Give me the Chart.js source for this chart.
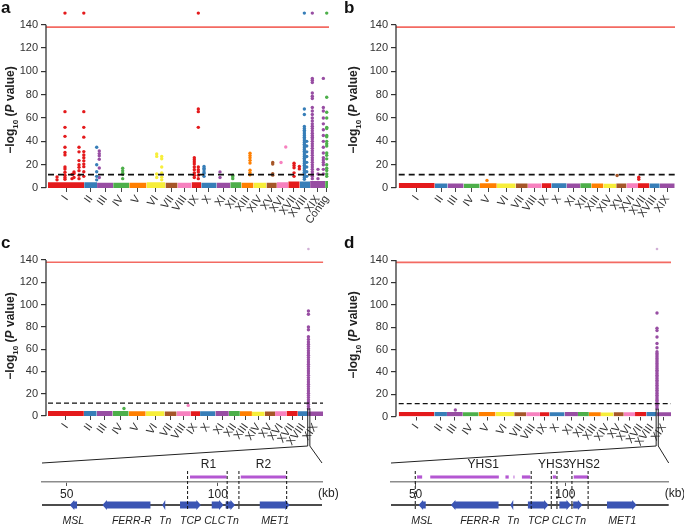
<!DOCTYPE html>
<html><head><meta charset="utf-8">
<script src="https://cdn.jsdelivr.net/npm/chart.js@4/dist/chart.umd.min.js"></script>
<style>
body{margin:0;width:684px;height:527px;position:relative;background:#fff;font-family:"Liberation Sans",Arial,sans-serif;overflow:hidden}
canvas{position:absolute}
.lt{position:absolute;font-weight:bold;font-size:17px;line-height:17px;color:#111}
.yt{position:absolute;font-weight:bold;font-size:12px;line-height:12px;white-space:nowrap;transform:translate(-50%,-50%) rotate(-90deg);color:#222}
.yt sub{font-size:8px;line-height:8px}
</style></head><body>
<canvas id="ca" width="342" height="245" style="left:0;top:0"></canvas>
<canvas id="cb" width="342" height="245" style="left:342px;top:0"></canvas>
<canvas id="cc" width="342" height="230" style="left:0;top:236px"></canvas>
<canvas id="cd" width="342" height="230" style="left:342px;top:236px"></canvas>
<canvas id="gc" width="342" height="127" style="left:0;top:400px"></canvas>
<canvas id="gd" width="342" height="127" style="left:342px;top:400px"></canvas>
<div class="lt" style="left:1px;top:-1px">a</div>
<div class="lt" style="left:344px;top:-1px">b</div>
<div class="lt" style="left:1px;top:234px">c</div>
<div class="lt" style="left:344px;top:234px">d</div>
<div class="yt" style="left:12px;top:110px">−log<sub>10</sub> (<i>P</i> value)</div>
<div class="yt" style="left:355px;top:110px">−log<sub>10</sub> (<i>P</i> value)</div>
<div class="yt" style="left:12px;top:336px">−log<sub>10</sub> (<i>P</i> value)</div>
<div class="yt" style="left:355px;top:335px">−log<sub>10</sub> (<i>P</i> value)</div>
<script>
// ---------------- data ----------------
const chromNames = ['I','II','III','IV','V','VI','VII','VIII','IX','X','XI','XII','XIII','XIV','XV','XVI','XVII','XVIII','XIX','Contig'];
const chromLenMb = [50.5,18,22.5,22.5,24,26.5,17,19.5,13.5,21.5,19,15.5,17,18,14.5,16,16,14.5,21,4];
const chromColors = ['#e41a1c','#377eb8','#984ea3','#4daf4a','#ff7f00','#f7ee3a','#a65628','#f781bf'];
const yTicks = [0,20,40,60,80,100,120,140];
const genomeWideLine = 138;
const suggestiveLine = 11.5;

// top of the dense background cloud per chromosome (-log10 P)
const bandA = [5,5,4.5,4.5,4.5,5,4.5,4.5,5,4.5,4.5,5,4.5,4.5,4.5,5,5.5,5.5,6,6];
const bandB = [4.2,3.8,3.8,3.6,4,3.8,3.8,3.8,4,4,3.8,4,3.8,3.6,3.8,4,4,3.8,3.8];
const bandC = [4.6,4.4,4.4,4.4,4.2,4.2,4,4.2,4.2,4.2,4.5,4.4,4.2,3.8,4,4.2,4.4,4.3,4];
const bandD = [4,4,4,3.8,4,4,3.8,3.8,3.8,3.8,4,4,3.8,3.6,3.8,3.8,4,4,3.8];

// [chromosome, position within chromosome (Mb), -log10 P values]
const hitsA = [
 ['I',12.6,[9.4,7]],
 ['I',23.7,[150,65.5,52,44.3,35,30.4,28.4,18,16.3,13.5,11,9,7.5]],
 ['I',33.5,[11.7,8]],
 ['I',36.3,[13.8,12.4,9]],
 ['I',43.3,[35,31,23.5,20,17.7,14.9,11,8]],
 ['I',50.0,[150,65.5,52,43.6,31.2,28.4,26,23.3,20.5,18.3,14,10]],
 ['II',17.5,[35,20,14,10,7]],
 ['III',3.1,[31.8,29.5,27.6,24.7,17.1,9]],
 ['IV',13.3,[16.9,14.9,12.6,11.5,8]],
 ['VI',14.3,[29.2,27.1,12,9]],
 ['VI',21.3,[27,25,18,12.9,9.3,7]],
 ['IX',3.8,[25.9,24.2,22.3,20.5,18,15.7,13,11,9]],
 ['IX',9.4,[150,67.8,65.5,52,18,15.7,13.8,11,8]],
 ['X',3.9,[18.5,17,15.7,13.8,12.4,10]],
 ['XI',4.7,[13.8,9]],
 ['XII',3.5,[11,9.7,8]],
 ['XIII',12.1,[29.8,27.8,25.9,23.7,21.5,15.2,13.1,11.3]],
 ['XV',8.8,[21.9,20.5,12.3,11]],
 ['XVI',5.9,[21.9]],
 ['XVI',12.5,[35.2]],
 ['XVII',8.1,[21.3,19.3,17.4,13,10]],
 ['XVII',15.5,[18.5,16.4]],
 ['XVIII',6.5,[150,67.7,63,52.8,51,49.5,48,46.5,45,43.5,42,40.5,39,37.5,36,34.5,33,31.5,30,28.5,27,25.5,24,22.5,21,19.5,18,16.5,15,13.5,12,10.5,9,7.5]],
 ['XVIII',9.8,[40,36,31,27,22,18,14,10]],
 ['XIX',3.1,[150,94,92.5,90.5,81.5,78.7,76.8,69,66,63,60,57.5,55,53,51,49,47,45,43.5,42,40,38,36,34,32,30,28,26,24,22,20,18,16,14,12,10,8]],
 ['XIX',11,[16,12,8]],
 ['XIX',18.5,[94,69,66,60,55,50,45,40,35,30,26,24,22,20,16,12]],
 ['Contig',2.2,[150,77.8,65,60,52,51,45,44,40,38,36,30,28,25,20,17,15,12,10]]
];
const hitsB = [['V',10.3,[6.5]],['XV',1.2,[10.7]],['XVII',1.1,[9.3,7.5]]];
const hitsC = [
 ['IV',15.9,[6.7]],['VIII',16.3,[9.5]],
 ['XIX',0.5,[150,94.3,91.4,79.9,77.5,71.2,68.8,66.5,64.5,62.5,60.5,58.5,56.5,54.5,52.5,50.5,48.5,46.5,44.5,42.5,40.5,38.5,36.5,34.5,32.5,30.5,28.5,26.5,24.5,22.5,20.5,18.5,16.5,14.5,12.5,10.5,8.5,6.5]]
];
const hitsD = [
 ['III',11.9,[5.8]],
 ['XIX',0.7,[150,92.6,79,76.9,71.2,65.4,61.6,58,56.5,55,53.5,52,50.5,49,47.5,46,44.5,43,41.5,40,38.5,37,35.5,34,32.5,31,29.5,28,26.5,25,23.5,22,20.5,19,17.5,16,14.5,13,11.5,10,8.5,7]]
];

// zoomed region of chromosome XIX (Mb from start) and gene models (kb)
const zoomWindowMb = [-0.5, 2.5];
const kbRange = [41.8, 134.5];
const kbTicks = [50, 100];
// [name, start kb, end kb, strand, label position kb]
const genes = [['MSL',51.0,53.4,-1,52.2],['FERR-R',61.8,77.7,-1,71.5],['Tn',81.6,82.6,-1,82.6],['TCP',87.5,94.4,1,91.0],['CLC',98.0,101.9,1,99.0],['Tn',102.6,105.7,1,104.9],['MET1',113.9,123.8,1,119.0]];
const regionsC = [['R1',96.9,[[90.8,102.9]]],['R2',115.1,[[107.6,122.6]]]];
const regionsD = [['YHS1',72.6,[[50.5,52.2],[54.9,77.8],[80.0,81.1],[82.7,83.0],[85.5,88.3]]],['YHS3',96.1,[[95.8,96.9]]],['YHS2',106.3,[[102.8,107.6]]]];
const dashKbC = [90.0,103.1,107.0,122.8];
const dashKbD = [49.9,88.6,95.3,97.2,102.2,107.6];

// ---------------- drawing ----------------
const FF = '"Liberation Sans", Arial, sans-serif';
Chart.defaults.font.family = FF;
Chart.defaults.color = '#333';
const Y_TOP = 153; // room above 140 for capped values

const yAxisLine = {
  id:'yAxisLine',
  afterDraw(chart){
    const ctx=chart.ctx, y=chart.scales.y, x0=chart.chartArea.left;
    ctx.save(); ctx.strokeStyle='#333'; ctx.lineWidth=1.3;
    ctx.beginPath(); ctx.moveTo(x0,y.getPixelForValue(yTicks[yTicks.length-1])); ctx.lineTo(x0,y.getPixelForValue(0)); ctx.stroke();
    ctx.restore();
  }
};

function fade(hex, a){
  const n=parseInt(hex.slice(1),16);
  return `rgba(${n>>16},${(n>>8)&255},${n&255},${a})`;
}

function manhattan(id, L, band, hits, nChr){
  const lens = chromLenMb.slice(0,nChr);
  const starts=[], centers=[]; let s=0;
  lens.forEach(l=>{starts.push(s); centers.push(s+l/2); s+=l;});
  const total = s;
  const W = L.canvasW - L.yWidth - L.padRight;
  const k = L.dataW/total;
  const xMin = -L.gapL/k, xMax = xMin + W/k;
  const ds = [];
  ds.push({type:'line',data:[{x:xMin,y:genomeWideLine},{x:xMax,y:genomeWideLine}],borderColor:'#f36a62',borderWidth:1.6,pointRadius:0,order:0});
  ds.push({type:'line',data:[{x:0,y:suggestiveLine},{x:total,y:suggestiveLine}],borderColor:'#111',borderWidth:L.dashW,borderDash:L.dash,pointRadius:0,order:0});
  for(let i=0;i<nChr;i++){
    const col = chromColors[i%8];
    ds.push({type:'line',data:[{x:starts[i],y:band[i]},{x:starts[i]+lens[i],y:band[i]}],fill:'origin',backgroundColor:col,borderColor:col,borderWidth:0,pointRadius:0,order:2});
    const pts=[];
    hits.filter(h=>h[0]===chromNames[i]).forEach(h=>h[2].forEach(v=>pts.push({x:starts[i]+h[1],y:v})));
    if(pts.length) ds.push({type:'scatter',data:pts,
      backgroundColor:c=>(c.raw && c.raw.y>140) ? fade(col,L.capAlpha) : col,
      pointRadius:c=>(c.raw && c.raw.y>140) ? L.capR : 1.7,
      borderWidth:0,clip:false,order:1});
  }
  const chart = new Chart(document.getElementById(id),{
    type:'scatter',
    data:{datasets:ds},
    plugins:[yAxisLine],
    options:{
      responsive:false,animation:false,events:[],
      layout:{padding:{top:L.padTop,right:L.padRight,left:0,bottom:0}},
      plugins:{legend:{display:false},tooltip:{enabled:false}},
      scales:{
        x:{type:'linear',min:xMin,max:xMax,
          afterBuildTicks:sc=>{sc.ticks=centers.map(v=>({value:v}));},
          afterFit:sc=>{sc.height=L.xHeight;},
          ticks:{autoSkip:false,minRotation:55,maxRotation:55,padding:1,color:'#333',font:{size:11},
            callback:(v,i)=>chromNames[i]},
          grid:{drawOnChartArea:false,drawTicks:true,tickLength:4,color:'#444',lineWidth:1},
          border:{display:false}},
        y:{min:0,max:Y_TOP,
          afterBuildTicks:sc=>{sc.ticks=yTicks.map(v=>({value:v}));},
          afterFit:sc=>{sc.width=L.yWidth;},
          ticks:{padding:3,color:'#333',font:{size:11}},
          grid:{drawOnChartArea:false,tickLength:5,color:'#333',lineWidth:1.2},
          border:{display:false}}
      }
    }
  });
  chart.$xix = starts[18];
  return chart;
}

// a/b: 140 at y=22, 0 at y=188 ; c/d: 140 at y~255, 0 at y~416
const chA = manhattan('ca',{canvasW:342,yWidth:46,padRight:13,padTop:6.6,xHeight:57,dataW:280,gapL:2,dashW:1.8,dash:[6,4],capAlpha:1,capR:1.7},bandA,hitsA,20);
const chB = manhattan('cb',{canvasW:342,yWidth:54,padRight:9,padTop:6.6,xHeight:57,dataW:276,gapL:2.7,dashW:1.8,dash:[6,4],capAlpha:1,capR:1.7},bandB,hitsB,19);
const chC = manhattan('cc',{canvasW:342,yWidth:46,padRight:18.7,padTop:3.7,xHeight:50,dataW:275,gapL:2,dashW:1.3,dash:[5,3],capAlpha:0.45,capR:1.3},bandC,hitsC,19);
const chD = manhattan('cd',{canvasW:342,yWidth:54,padRight:13,padTop:4,xHeight:49.5,dataW:272.6,gapL:2.7,dashW:1.3,dash:[5,3],capAlpha:0.45,capR:1.3},bandD,hitsD,19);

const geneDraw = {
  id:'geneDraw',
  afterDraw(chart, args, o){
    const ctx = chart.ctx, a = chart.chartArea, X = v=>chart.scales.x.getPixelForValue(v);
    ctx.save();
    // zoom lines from chromosome XIX of the panel above
    const m = o.src, dy = o.dy;
    const xl = m.scales.x.getPixelForValue(m.$xix+zoomWindowMb[0]);
    const xr = m.scales.x.getPixelForValue(m.$xix+zoomWindowMb[1]);
    const y0 = m.scales.y.getPixelForValue(7)+dy;
    ctx.strokeStyle='#222'; ctx.lineWidth=1;
    ctx.beginPath();
    ctx.moveTo(xl,y0); ctx.lineTo(xl,46); ctx.lineTo(a.left,63);
    ctx.moveTo(xr,y0); ctx.lineTo(xr,46); ctx.lineTo(a.right,63);
    ctx.stroke();
    // associated regions
    ctx.strokeStyle='#b457d2'; ctx.lineWidth=3.2;
    o.regions.forEach(r=>r[2].forEach(sg=>{ctx.beginPath();ctx.moveTo(X(sg[0]),77);ctx.lineTo(X(sg[1]),77);ctx.stroke();}));
    ctx.fillStyle='#222'; ctx.font='12px '+FF; ctx.textAlign='center'; ctx.textBaseline='middle';
    o.regions.forEach(r=>ctx.fillText(r[0],X(r[1]),65));
    // gene track
    ctx.strokeStyle='#111'; ctx.lineWidth=1.6;
    ctx.beginPath(); ctx.moveTo(a.left,105); ctx.lineTo(a.right,105); ctx.stroke();
    ctx.fillStyle='#3b55b3';
    genes.forEach(g=>{
      const x1=X(g[1]), x2=X(g[2]), len=x2-x1, head=Math.min(4.5,len), h=3.6, hh=5;
      ctx.beginPath();
      if(g[3]>0){
        ctx.moveTo(x1,105-h); ctx.lineTo(x2-head,105-h); ctx.lineTo(x2-head,105-hh); ctx.lineTo(x2,105);
        ctx.lineTo(x2-head,105+hh); ctx.lineTo(x2-head,105+h); ctx.lineTo(x1,105+h);
      } else {
        ctx.moveTo(x2,105-h); ctx.lineTo(x1+head,105-h); ctx.lineTo(x1+head,105-hh); ctx.lineTo(x1,105);
        ctx.lineTo(x1+head,105+hh); ctx.lineTo(x1+head,105+h); ctx.lineTo(x2,105+h);
      }
      ctx.closePath(); ctx.fill();
    });
    ctx.fillStyle='#222'; ctx.font='italic 10.5px '+FF;
    genes.forEach(g=>ctx.fillText(g[0],X(g[4]),121));
    // dashed boundaries
    ctx.strokeStyle='#111'; ctx.lineWidth=1; ctx.setLineDash([3,2]);
    o.dash.forEach(v=>{ctx.beginPath();ctx.moveTo(X(v),71);ctx.lineTo(X(v),110);ctx.stroke();});
    ctx.setLineDash([]);
    ctx.font='12px '+FF; ctx.textAlign='left';
    ctx.fillText('(kb)',a.right-4,94);
    ctx.restore();
  }
};

function geneChart(id, src, dy, padL, padR, regions, dash){
  return new Chart(document.getElementById(id),{
    type:'scatter',
    data:{datasets:[]},
    plugins:[geneDraw],
    options:{
      responsive:false,animation:false,events:[],
      layout:{padding:{top:60,left:padL,right:padR,bottom:0}},
      plugins:{legend:{display:false},tooltip:{enabled:false},geneDraw:{src,dy,regions,dash}},
      scales:{
        x:{type:'linear',min:kbRange[0],max:kbRange[1],
          afterBuildTicks:sc=>{sc.ticks=kbTicks.map(v=>({value:v}));},
          afterFit:sc=>{sc.height=45;},
          ticks:{padding:1,color:'#222',font:{size:12}},
          grid:{drawOnChartArea:false,tickLength:4,color:'#555',lineWidth:1},
          border:{display:true,color:'#8c8c8c',width:1.6}},
        y:{display:false,min:0,max:1}
      }
    }
  });
}
geneChart('gc', chC, 236-400, 42, 20, regionsC, dashKbC);
geneChart('gd', chD, 236-400, 49, 15.3, regionsD, dashKbD);
</script>
</body></html>
